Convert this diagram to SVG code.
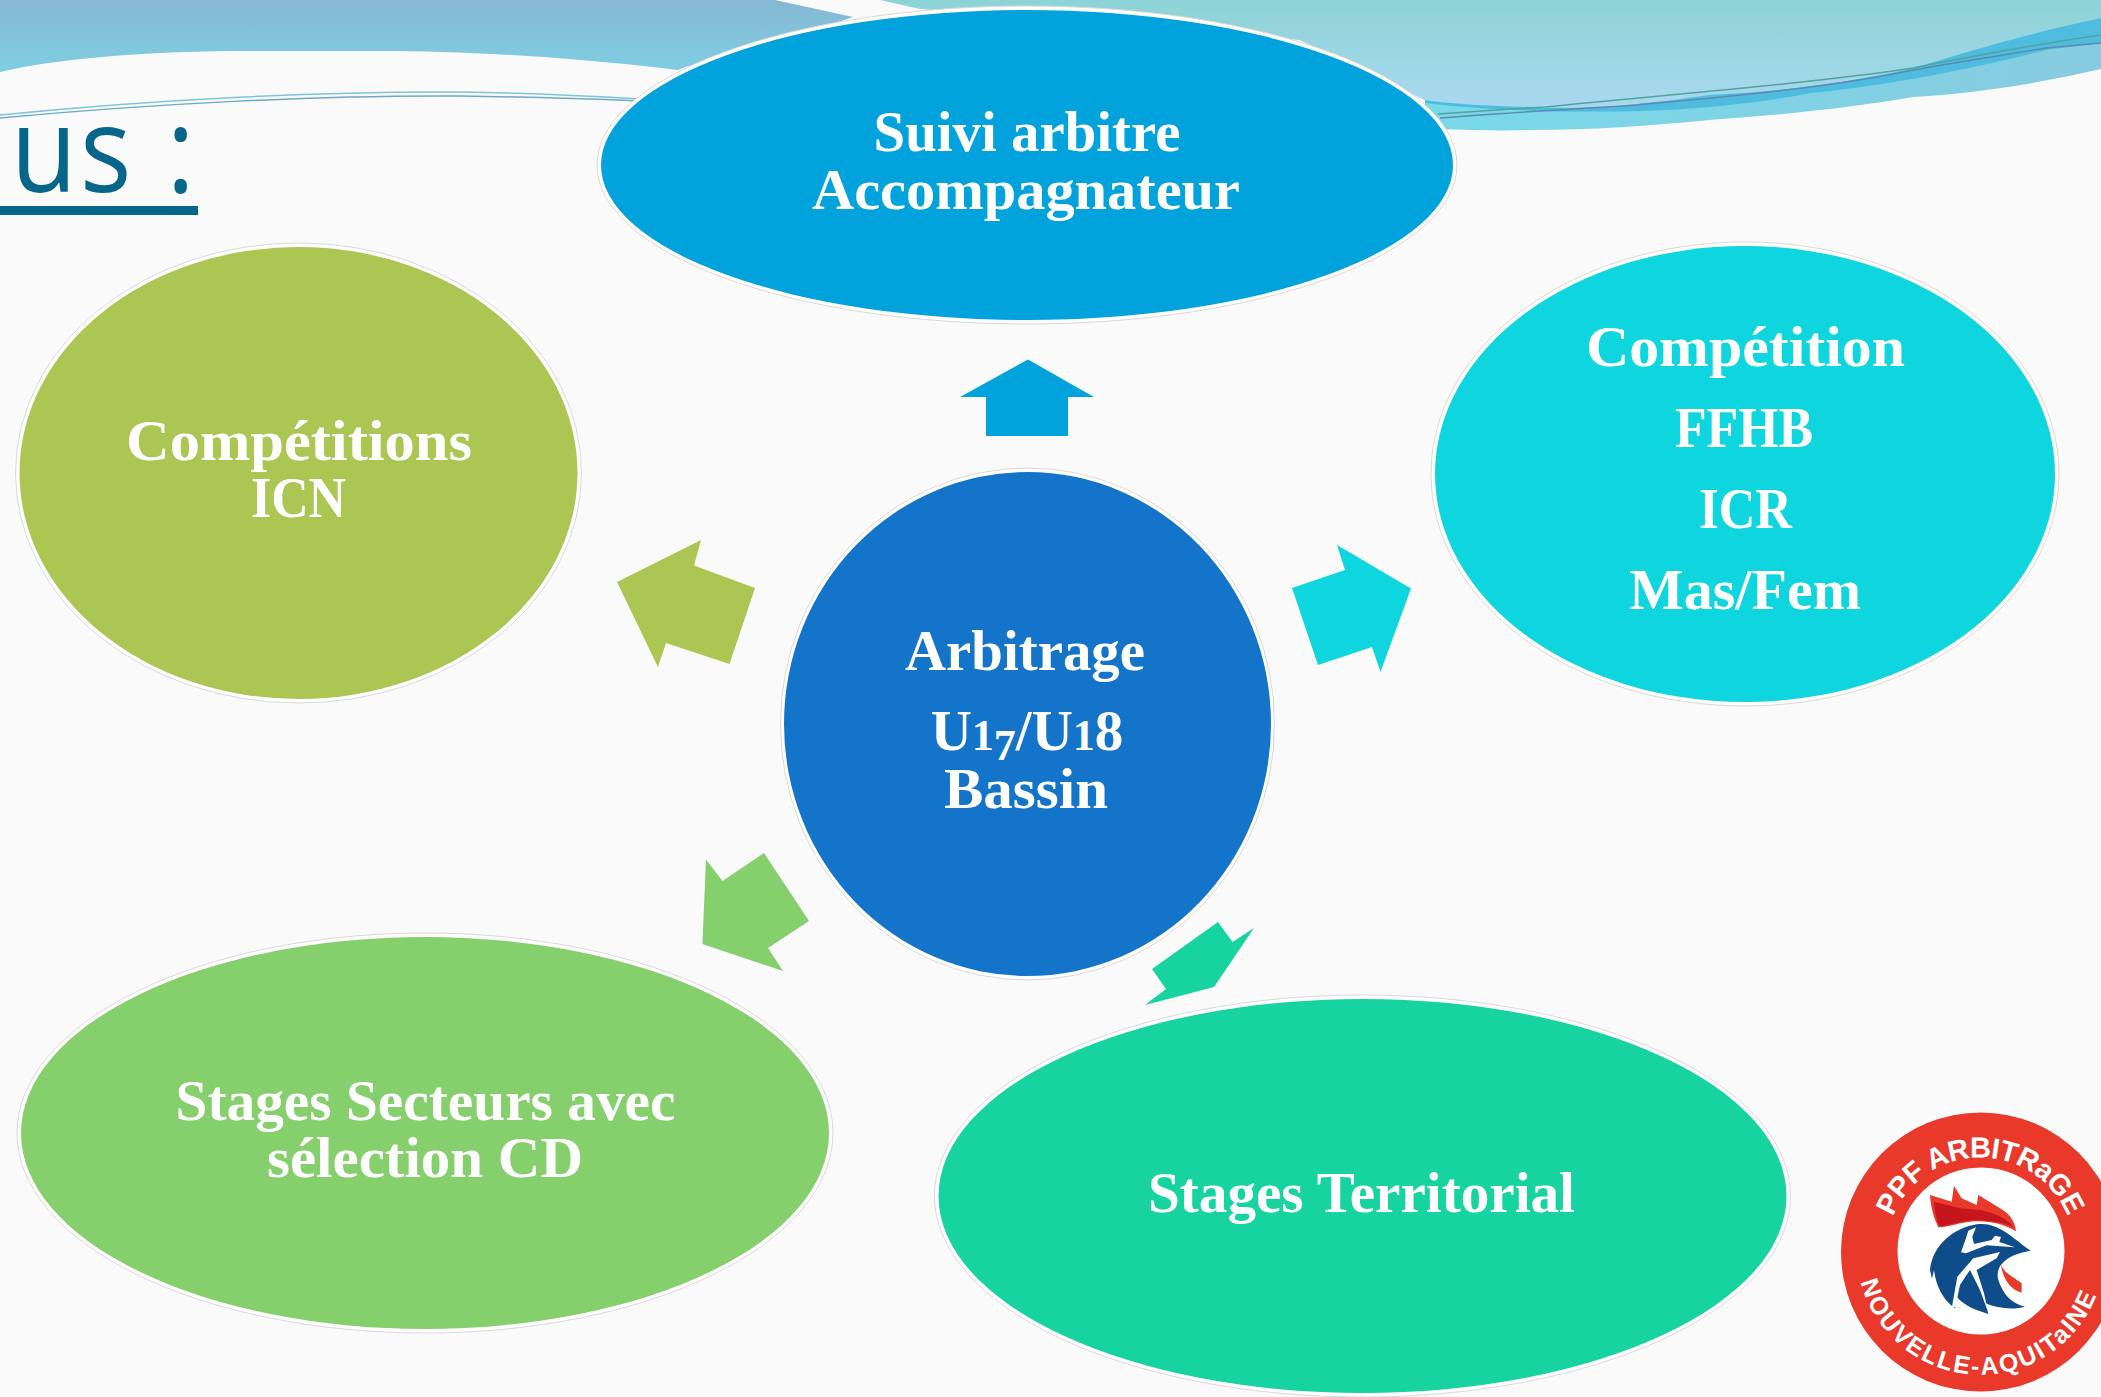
<svg xmlns="http://www.w3.org/2000/svg" width="2101" height="1397" viewBox="0 0 2101 1397">
<defs>
<linearGradient id="bandL" x1="0" y1="0" x2="0" y2="1"><stop offset="0" stop-color="#86b8d2"/><stop offset="1" stop-color="#7fcee3"/></linearGradient>
<linearGradient id="bandR" x1="0" y1="0" x2="0" y2="1"><stop offset="0" stop-color="#8dd3d5"/><stop offset="1" stop-color="#aad8ef"/></linearGradient>
<linearGradient id="bandR2" x1="0" y1="0" x2="1" y2="0"><stop offset="0" stop-color="#74dcea"/><stop offset="1" stop-color="#88cbe0"/></linearGradient>
<path id="arcTop" d="M1893 1217A94 94 0 0 1 2069 1220"/>
<path id="arcBottom" d="M1860.7 1282A124 124 0 0 0 2099 1288"/>
</defs>
<style>
.halo{fill:#fff;stroke:#d9d9d9;stroke-width:1}
.lbl{font-family:"Liberation Serif","Times New Roman",serif;font-weight:700;font-size:57px;fill:#fff;text-anchor:middle}
.logo{font-family:"Liberation Sans","Open Sans",sans-serif;font-weight:700;fill:#fff}
.wave{fill:none;stroke-width:1.5}
</style>
<rect width="2101" height="1397" fill="#fafafa"/>
<g id="header">
<path d="M0 0H775L853 17C800 35 700 60 678 70C560 56 460 51 380 51H250C150 51 60 58 0 72Z" fill="url(#bandL)"/>
<path class="wave" stroke="#6fa9c6" d="M0 118C150 104 320 95 460 96C530 97 590 99 640 101"/>
<path class="wave" stroke="#7fc4dc" d="M0 115C150 100 320 91 460 92C530 93 590 96 640 99"/>
<path d="M1300 40L1425 100V129L1440 129C1470 130 1500 131 1530 130C1590 130 1650 126 1709 120C1780 115 1850 108 1913 97C1980 93 2040 83 2101 69V0H1300Z" fill="url(#bandR2)"/>
<path d="M1425 95V103C1480 110 1560 113 1642 111C1700 109 1760 103 1811 93C1900 85 2000 62 2046 50L2101 43V10L1900 60Z" fill="#4fbcdf"/>
<path d="M880 0H2101V18C2000 40 1950 58 1913 68C1840 85 1770 92 1709 95C1640 105 1590 110 1530 107C1490 106 1450 104 1425 100L1300 40L920 9Z" fill="url(#bandR)"/>
<path class="wave" stroke="#4fa59c" d="M1438 114C1480 111 1510 109 1545 107C1650 96 1800 85 1913 68C1990 53 2050 42 2101 35"/>
<path class="wave" stroke="#5d8bb0" d="M1440 118C1500 113 1560 110 1637 105C1720 97 1830 88 1913 70C1960 62 2010 54 2046 48L2101 43"/>
<text transform="scale(.9 1)" x="12 89 150 185" y="192" font-family="'Open Sans','Liberation Sans',sans-serif" font-size="120" fill="#05668a">us :</text>
<rect x="0" y="206" width="198" height="9" fill="#05668a"/>
</g>
<g id="connectors">
<polygon fill="#02a2dc" points="1028,359.5 1094,397 1068,397 1068,436 986,436 986,397 960,397"/>
<polygon fill="#0fd5de" points="1337,545 1411,588.5 1380.5,672 1372,647 1318,665 1292,588 1345,570"/>
<polygon fill="#abc653" points="701,540 617,582 658,667 666,643 729.5,664 755,588 694,565.5"/>
<polygon fill="#85cf6c" points="706,859.5 702.4,944 783,971 768,948 809,921 764,853 722.5,881"/>
<polygon fill="#16d39f" points="1254,928 1214,987 1145,1005 1166,989 1152,969 1218,922 1232.5,942"/>
</g>
<g id="node-suivi">
<ellipse class="halo" cx="1027" cy="165" rx="430" ry="159"/>
<ellipse cx="1027" cy="165" rx="426" ry="155" fill="#02a2dc"/>
<text class="lbl" x="1027" y="151" textLength="307" lengthAdjust="spacingAndGlyphs">Suivi arbitre</text>
<text class="lbl" x="1026" y="209" textLength="428" lengthAdjust="spacingAndGlyphs">Accompagnateur</text>
</g>
<g id="node-competition">
<ellipse class="halo" cx="1745" cy="474" rx="314" ry="232"/>
<ellipse cx="1745" cy="474" rx="310" ry="228" fill="#0fd5de"/>
<text class="lbl" x="1745.5" y="366" textLength="319" lengthAdjust="spacingAndGlyphs">Compétition</text>
<text class="lbl" x="1744" y="447" textLength="138" lengthAdjust="spacingAndGlyphs">FFHB</text>
<text class="lbl" x="1745.5" y="528" textLength="93" lengthAdjust="spacingAndGlyphs">ICR</text>
<text class="lbl" x="1745" y="609" textLength="232" lengthAdjust="spacingAndGlyphs">Mas/Fem</text>
</g>
<g id="node-icn">
<ellipse class="halo" cx="298.5" cy="473" rx="283" ry="230"/>
<ellipse cx="298.5" cy="473" rx="279" ry="226" fill="#abc653"/>
<text class="lbl" x="299" y="460" textLength="346" lengthAdjust="spacingAndGlyphs">Compétitions</text>
<text class="lbl" x="298.5" y="517" textLength="95" lengthAdjust="spacingAndGlyphs">ICN</text>
</g>
<g id="node-arbitrage">
<ellipse class="halo" cx="1027.5" cy="724" rx="247" ry="256"/>
<ellipse cx="1027.5" cy="724" rx="243.5" ry="252" fill="#1474c9"/>
<text class="lbl" x="1025" y="669.5" textLength="240" lengthAdjust="spacingAndGlyphs">Arbitrage</text>
<text class="lbl" x="1027" y="750">U<tspan font-size="44">1</tspan><tspan font-size="44" dy="10">7</tspan><tspan dy="-10">/U</tspan><tspan font-size="44">1</tspan>8</text>
<text class="lbl" x="1026" y="808" textLength="164" lengthAdjust="spacingAndGlyphs">Bassin</text>
</g>
<g id="node-secteurs">
<ellipse class="halo" cx="425" cy="1133" rx="408" ry="200"/>
<ellipse cx="425" cy="1133" rx="404" ry="196" fill="#85cf6c"/>
<text class="lbl" x="425.5" y="1120" textLength="500" lengthAdjust="spacingAndGlyphs">Stages Secteurs avec</text>
<text class="lbl" x="425" y="1177" textLength="316" lengthAdjust="spacingAndGlyphs">sélection CD</text>
</g>
<g id="node-territorial">
<ellipse class="halo" cx="1362.5" cy="1196" rx="428" ry="201"/>
<ellipse cx="1362.5" cy="1196" rx="424" ry="197" fill="#16d39f"/>
<text class="lbl" x="1361.5" y="1212" textLength="427" lengthAdjust="spacingAndGlyphs">Stages Territorial</text>
</g>
<g id="logo">
<circle cx="1980.5" cy="1252" r="139.5" fill="#e8392b"/>
<circle cx="1981" cy="1251" r="83.5" fill="#fff"/>
<text class="logo" font-size="29"><textPath href="#arcTop" textLength="224" lengthAdjust="spacing">PPF ARBITRaGE</textPath></text>
<text class="logo" font-size="25"><textPath href="#arcBottom" textLength="312" lengthAdjust="spacing">NOUVELLE-AQUITaINE</textPath></text>
<g transform="translate(1800 1090) scale(.3333)">
<path fill="#e8392b" d="M390 315L455 335L462 288L485 325L530 345L535 315L600 355C630 372 645 395 648 424C610 400 560 390 510 395C470 400 440 412 415 412C400 380 392 350 390 315Z"/>
<path fill="#c4161c" d="M402 335L480 355L540 360C590 370 625 390 640 410C600 395 550 388 505 392C470 396 440 408 418 408C408 385 404 360 402 335Z"/>
<path fill="#0f4c8a" d="M530 403C460 415 398 465 390 540L396 566L402 540C408 590 430 630 465 655L470 620C495 650 530 660 565 672L558 640C590 655 640 660 675 650C635 640 610 615 595 570C585 535 610 495 692 482C660 462 630 430 590 412C570 403 550 400 530 403Z"/>
<path fill="#fff" d="M505 422L528 412L517 440L522 462L575 450L585 437L603 441L598 456L645 472L560 466L498 490L483 487L496 450Z"/>
<path fill="#fff" d="M600 486L520 505L472 560L456 650L466 652L480 585L510 540L540 600L565 668L552 610L530 540L590 505Z"/>
<path fill="#e8392b" d="M602 520C610 550 640 560 665 580L665 608C635 600 610 575 602 520Z"/>
</g>
</g>
</svg>
